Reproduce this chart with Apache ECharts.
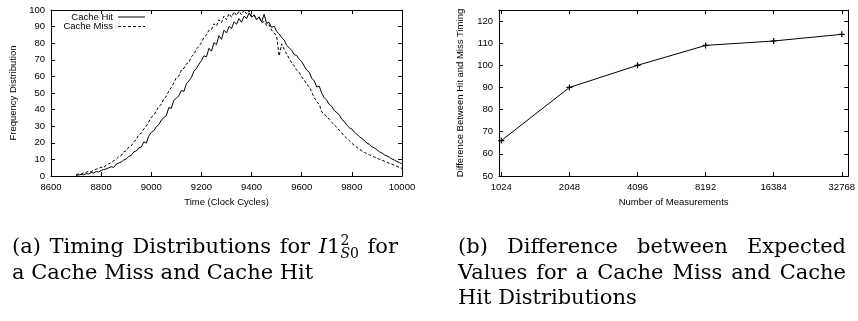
<!DOCTYPE html>
<html>
<head>
<meta charset="utf-8">
<script src="https://cdn.jsdelivr.net/npm/echarts@6/dist/echarts.min.js"></script>
<style>
  html, body { margin: 0; padding: 0; background: #fff; }
  #chart { position: absolute; left: 0; top: 0; width: 858px; height: 321px; }
  .line { position: absolute; height: 25.5px; font-family: "DejaVu Serif", serif; font-size: 21px; line-height: 25.5px; color: #000; }
  .just { text-align: justify; text-align-last: justify; }
  .st { display: inline-block; font-size: 14px; line-height: 13px; vertical-align: -5px; text-align: left; text-align-last: left; }
  .st span { display: block; }
</style>
</head>
<body>
<div id="chart"></div>

<div class="line just" style="left:12px;top:234px;width:386px">(a) Timing Distributions for <i>I</i>1<span class="st"><span>2</span><span><i>S</i>0</span></span> for</div>
<div class="line" style="left:12px;top:259.5px;width:400px">a Cache Miss and Cache Hit</div>

<div class="line just" style="left:458px;top:234px;width:388px">(b) Difference between Expected</div>
<div class="line just" style="left:458px;top:259.5px;width:388px">Values for a Cache Miss and Cache</div>
<div class="line" style="left:458px;top:285px;width:388px">Hit Distributions</div>

<script>
// (a) timing histograms, one value every 10 clock cycles starting at 8700
const timeStart = 8700;
const timeStep = 10;
const hitValues = [
  0.4, 0.6, 0.9, 0.7, 1.4, 1.2, 2.1, 1.8, 2.7, 2.4,
  3.3, 3.9, 4.2, 4.9, 5.6, 5.2, 7.1, 7.8, 8.4, 9.6,
  10.2, 11.8, 12.4, 14.6, 15.1, 16.9, 17.5, 20.6, 19.8, 24.1,
  26.3, 27.2, 29.8, 30.9, 33.7, 35.2, 36.4, 41.2, 40.8, 45.6,
  46.9, 48.3, 51.7, 50.9, 55.6, 57.2, 59.4, 63.1, 64.8, 67.3,
  69.5, 72.4, 71.8, 76.9, 75.2, 80.4, 79.1, 84.6, 82.3, 87.8,
  86.2, 90.1, 88.7, 92.9, 91.4, 94.8, 92.6, 96.3, 94.9, 98.2,
  95.7, 96.8, 94.1, 95.9, 92.8, 97.4, 91.9, 92.6, 89.4, 90.3,
  87.1, 85.6, 83.4, 81.9, 78.7, 77.2, 75.8, 73.1, 72.6, 70.4,
  68.9, 66.2, 63.8, 62.5, 58.9, 57.3, 53.6, 54.1, 49.8, 47.2,
  45.6, 43.1, 41.9, 39.4, 38.2, 36.9, 34.1, 32.8, 30.6, 29.1,
  28.3, 26.4, 25.1, 23.7, 22.6, 21.4, 19.8, 19.1, 17.6, 16.9,
  15.8, 14.6, 13.9, 12.7, 12.1, 11.3, 10.2, 9.6, 8.7, 8.1,
  7.2
];
const missValues = [
  0.8, 1.3, 1.1, 1.9, 2.2, 2.8, 2.6, 3.5, 4.1, 4.6,
  5.3, 5.1, 6.6, 7.4, 7.9, 9.2, 10.1, 11.6, 12.3, 14.5,
  15.2, 17.4, 18.1, 20.6, 21.8, 24.9, 25.7, 28.3, 30.1, 32.6,
  35.4, 36.8, 39.2, 41.9, 43.1, 46.7, 47.9, 51.2, 53.4, 56.1,
  59.3, 60.2, 63.8, 64.9, 67.6, 68.4, 71.9, 73.2, 76.5, 78.1,
  80.4, 83.6, 84.9, 87.8, 88.2, 91.7, 90.4, 94.1, 92.3, 96.4,
  94.2, 97.8, 95.6, 98.9, 96.7, 99.3, 97.1, 100, 97.6, 99.4,
  96.3, 97.2, 94.5, 95.8, 92.4, 93.1, 90.6, 91.2, 87.9, 86.3,
  84.1, 72.3, 79.6, 76.2, 73.4, 70.8, 68.1, 66.3, 63.7, 62.4,
  59.6, 57.8, 55.1, 53.9, 50.4, 47.2, 44.8, 43.1, 38.6, 37.2,
  35.9, 34.1, 32.3, 30.8, 29.2, 27.6, 25.9, 24.1, 22.7, 21.3,
  19.8, 18.4, 17.2, 16.3, 15.1, 14.2, 13.5, 12.8, 12.1, 11.4,
  10.7, 10.1, 9.5, 8.9, 8.3, 7.6, 7.1, 6.4, 5.8, 5.2,
  4.6
];

// (b) difference vs number of measurements
const measurements = [1024, 2048, 4096, 8192, 16384, 32768];
const differences = [66, 90, 100, 109, 111, 114];

const font = 'Liberation Sans';
const txt = { fontFamily: font, fontSize: 9.5, color: '#000' };
const frame = { show: true, onZero: false, lineStyle: { color: '#000', width: 1 } };
const tick = { show: true, inside: true, length: 4, lineStyle: { color: '#000', width: 1 } };
const plain = v => String(Math.round(v));

// legend samples: a solid bar and a dashed bar
const solidIcon = 'path://M0,0h27v1h-27z';
const dashedIcon = 'path://M0,0h3v1h-3zM5,0h3v1h-3zM10,0h3v1h-3zM15,0h3v1h-3zM20,0h3v1h-3zM25,0h2v1h-2z';

const toPairs = vals => vals.map((v, i) => [timeStart + i * timeStep, v]);

const chart = echarts.init(document.getElementById('chart'), null, { renderer: 'canvas' });
chart.setOption({
  animation: false,
  backgroundColor: '#fff',
  grid: [
    { left: 51, top: 10, width: 351, height: 166 },
    { left: 499, top: 10, width: 352, height: 166 }
  ],
  legend: [
    {
      data: [{ name: 'Cache Hit', icon: solidIcon }], right: 713, top: 12, align: 'right',
      itemWidth: 27, itemHeight: 1, padding: 0, textStyle: txt
    },
    {
      data: [{ name: 'Cache Miss', icon: dashedIcon }], right: 713, top: 21.5, align: 'right',
      itemWidth: 27, itemHeight: 1, padding: 0, textStyle: txt
    }
  ],
  xAxis: [
    {
      gridIndex: 0, type: 'value', position: 'bottom', min: 8600, max: 10000, interval: 200,
      axisLine: frame, axisTick: tick, splitLine: { show: false },
      axisLabel: { ...txt, margin: 6, formatter: plain },
      name: 'Time (Clock Cycles)', nameLocation: 'middle', nameGap: 18, nameTextStyle: txt
    },
    {
      gridIndex: 0, type: 'value', position: 'top', min: 8600, max: 10000, interval: 200,
      axisLine: frame, axisTick: tick, splitLine: { show: false }, axisLabel: { show: false }
    },
    {
      gridIndex: 1, type: 'log', logBase: 2, position: 'bottom', min: 1000, max: 35000,
      axisLine: frame, splitLine: { show: false },
      axisTick: { ...tick, customValues: measurements },
      axisLabel: { ...txt, margin: 6, customValues: measurements, formatter: plain },
      name: 'Number of Measurements', nameLocation: 'middle', nameGap: 18, nameTextStyle: txt
    },
    {
      gridIndex: 1, type: 'log', logBase: 2, position: 'top', min: 1000, max: 35000,
      axisLine: frame, splitLine: { show: false },
      axisTick: { ...tick, customValues: measurements }, axisLabel: { show: false }
    }
  ],
  yAxis: [
    {
      gridIndex: 0, type: 'value', position: 'left', min: 0, max: 100, interval: 10,
      axisLine: frame, axisTick: tick, splitLine: { show: false },
      axisLabel: { ...txt, margin: 6 },
      name: 'Frequency Distribution', nameLocation: 'middle', nameGap: 33, nameTextStyle: txt
    },
    {
      gridIndex: 0, type: 'value', position: 'right', min: 0, max: 100, interval: 10,
      axisLine: frame, axisTick: tick, splitLine: { show: false }, axisLabel: { show: false }
    },
    {
      gridIndex: 1, type: 'value', position: 'left', min: 50, max: 125, interval: 10,
      axisLine: frame, axisTick: tick, splitLine: { show: false },
      axisLabel: { ...txt, margin: 6, showMaxLabel: false },
      name: 'Difference Between Hit and Miss Timing', nameLocation: 'middle', nameGap: 34, nameTextStyle: txt
    },
    {
      gridIndex: 1, type: 'value', position: 'right', min: 50, max: 125, interval: 10,
      axisLine: frame, axisTick: tick, splitLine: { show: false }, axisLabel: { show: false }
    }
  ],
  series: [
    {
      name: 'Cache Hit', type: 'line', xAxisIndex: 0, yAxisIndex: 0,
      data: toPairs(hitValues), symbol: 'none', color: '#000',
      lineStyle: { color: '#000', width: 1 }
    },
    {
      name: 'Cache Miss', type: 'line', xAxisIndex: 0, yAxisIndex: 0,
      data: toPairs(missValues), symbol: 'none', color: '#000',
      lineStyle: { color: '#000', width: 1, type: [3, 2] }
    },
    {
      name: 'Difference', type: 'line', xAxisIndex: 2, yAxisIndex: 2,
      data: measurements.map((m, i) => [m, differences[i]]),
      symbol: 'path://M4,0h2v4h4v2h-4v4h-2v-4h-4v-2h4z', symbolSize: 6, color: '#000',
      lineStyle: { color: '#000', width: 1 }
    }
  ]
});
</script>
</body>
</html>
